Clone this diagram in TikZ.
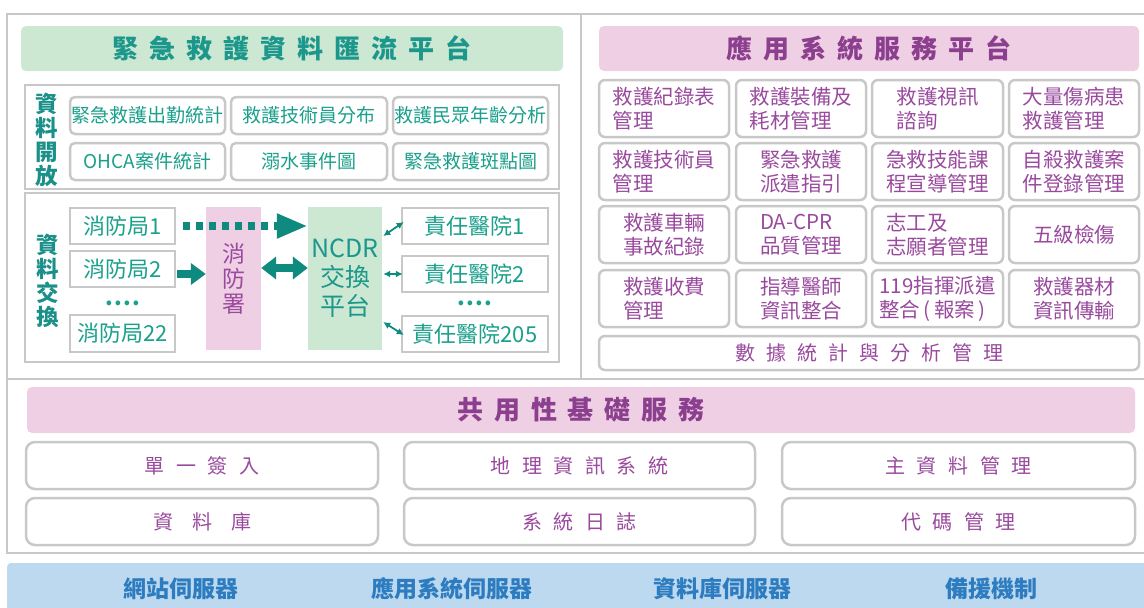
\documentclass[tikz,border=0pt]{standalone}
\usepackage{fontspec}
\setmainfont{Noto Sans CJK TC}
\usetikzlibrary{arrows.meta}
\definecolor{frame}{HTML}{C8C8C8}
\definecolor{tealtitle}{HTML}{1C978B}
\definecolor{tealtxt}{HTML}{1AA08B}
\definecolor{teallab}{HTML}{1A9089}
\definecolor{arrowc}{HTML}{0E8A7F}
\definecolor{greenfill}{HTML}{CCE7D2}
\definecolor{pinkfill}{HTML}{EFCFE3}
\definecolor{purp}{HTML}{9A4A9E}
\definecolor{purpdark}{HTML}{8C3F8E}
\definecolor{bluefill}{HTML}{BCD9F0}
\definecolor{bluetxt}{HTML}{2E7CC0}
\newcommand\bx[7][]{\node[#1, minimum width={(#5)-(#3)}, minimum height={(#6)-(#4)}] (#2) at ({((#3)+(#5))/2},{((#4)+(#6))/2}) {#7};}
\begin{document}
\begin{tikzpicture}[x=1pt,y=-1pt,
  frm/.style={draw=frame, line width=2.5pt},
  titlebar/.style={rounded corners=5pt, inner sep=0pt, font=\fontsize{26}{30}\selectfont\bfseries\addfontfeature{LetterSpace=42}},
  openbox/.style={draw=frame, line width=2.5pt, rounded corners=5pt, fill=white, inner sep=0pt, text=tealtxt, font=\fontsize{19}{22}\selectfont},
  exbox/.style={draw=frame, line width=2.5pt, fill=white, inner sep=0pt, text=tealtxt, font=\fontsize{22}{24}\selectfont},
  appbox/.style={draw=frame, line width=2.5pt, rounded corners=6pt, fill=white, inner sep=0pt, text=purp, align=left, font=\fontsize{20.5}{24}\selectfont},
  basebox/.style={draw=frame, line width=2.5pt, rounded corners=9pt, fill=white, inner sep=0pt, text=purp, font=\fontsize{20}{24}\selectfont\addfontfeature{LetterSpace=58}},
  vlabel/.style={align=center, inner sep=0pt, text=teallab, font=\fontsize{22.5}{24}\selectfont\bfseries},
  dots/.style={inner sep=0pt, anchor=base, text height=5pt, text depth=0pt, text=tealtxt, font=\fontsize{22}{22}\selectfont\bfseries\addfontfeature{LetterSpace=5}},
  bigarrow/.style={arrowc, line width=8pt},
  thinarrow/.style={arrowc, line width=1.8pt, {Latex[length=7pt,width=7pt]}-{Latex[length=7pt,width=7pt]}},
  srv/.style={inner sep=0pt, text=bluetxt, font=\fontsize{23}{26}\selectfont\bfseries}
]
\useasboundingbox (0,0) rectangle (1144,608);
% panels
\draw[frm] (7,14) rectangle (1154,379);
\draw[frm] (581,14) -- (581,379);
\draw[frm] (7,379) rectangle (1154,553);
\fill[bluefill, rounded corners=4pt] (7,563) rectangle (1160,625);
\draw[frm] (25,85) rectangle (559,189);
\draw[frm] (25,193) rectangle (559,362);

% titles
\bx[titlebar, fill=greenfill, text=tealtitle]{gtitle}{21}{26}{563}{71}{緊急救護資料匯流平台}
\bx[titlebar, fill=pinkfill, text=purpdark]{ptitle}{599}{26}{1139}{71}{應用系統服務平台}

% data open
\node[vlabel] (lopen) at (47,139.5) {資\\料\\開\\放};
\bx[openbox]{o1}{70}{97}{225}{134}{緊急救護出勤統計}
\bx[openbox]{o2}{231}{97}{387}{134}{救護技術員分布}
\bx[openbox]{o3}{393}{97}{548}{134}{救護民眾年齡分析}
\bx[openbox]{o4}{70}{143}{225}{180}{OHCA案件統計}
\bx[openbox]{o5}{231}{143}{387}{180}{溺水事件圖}
\bx[openbox]{o6}{393}{143}{548}{180}{緊急救護斑點圖}

% data exchange
\node[vlabel] (lex) at (48,280.5) {資\\料\\交\\換};
\bx[exbox]{f1}{70}{208}{175}{244}{消防局1}
\bx[exbox]{f2}{70}{251}{175}{287}{消防局2}
\bx[exbox]{f22}{70}{315}{175}{352}{消防局22}
\node[dots] (fdots) at (123,305) {....};
\bx[inner sep=0pt, fill=pinkfill, align=center, text=purp, font=\fontsize{23}{25}\selectfont]{fd}{206}{207}{261}{350}{消\\防\\署}
\bx[inner sep=0pt, fill=greenfill, align=center, text=tealtitle, font=\fontsize{25}{29}\selectfont]{ncdr}{308}{207}{382}{350}{NCDR\\交換\\平台}
\bx[exbox]{h1}{402}{208}{548}{244}{責任醫院1}
\bx[exbox]{h2}{402}{256}{548}{292}{責任醫院2}
\bx[exbox]{h205}{402}{316}{548}{352}{責任醫院205}
\node[dots] (hdots) at (475,305) {....};

% arrows
\draw[bigarrow, dash pattern=on 7pt off 6pt, -{Triangle[length=31pt,width=23pt]}] ([xshift=7pt]f1.east) -- (ncdr.west |- f1.east);
\coordinate (a2) at ([shift={(1,5)}]f2.east);
\draw[bigarrow, -{Triangle[length=15pt,width=21pt]}] (a2) -- (a2 -| fd.west);
\coordinate (y268) at (0,268);
\draw[bigarrow, {Triangle[length=15pt,width=22pt]}-{Triangle[length=15pt,width=22pt]}] (fd.east |- y268) -- (ncdr.west |- y268);
\coordinate (t1) at (0,236);
\coordinate (t3) at (0,322);
\draw[thinarrow] ([xshift=1pt]ncdr.east |- t1) -- ([shift={(3,-4)}]h1.west);
\draw[thinarrow] ([xshift=1pt]ncdr.east |- h2.west) -- ([xshift=2pt]h2.west);
\draw[thinarrow] ([xshift=1pt]ncdr.east |- t3) -- ([shift={(3,1)}]h205.west);

% application grid
\bx[appbox]{r11}{599}{80}{729}{137}{救護紀錄表\\管理}
\bx[appbox]{r12}{736}{80}{866}{137}{救護裝備及\\耗材管理}
\bx[appbox]{r13}{872}{80}{1003}{137}{救護視訊\\諮詢}
\bx[appbox]{r14}{1009}{80}{1139}{137}{大量傷病患\\救護管理}
\bx[appbox]{r21}{599}{143}{729}{200}{救護技術員\\管理}
\bx[appbox]{r22}{736}{143}{866}{200}{緊急救護\\派遣指引}
\bx[appbox]{r23}{872}{143}{1003}{200}{急救技能課\\程宣導管理}
\bx[appbox]{r24}{1009}{143}{1139}{200}{自殺救護案\\件登錄管理}
\bx[appbox]{r31}{599}{206}{729}{263}{救護車輛\\事故紀錄}
\bx[appbox]{r32}{736}{206}{866}{263}{DA-CPR\\品質管理}
\bx[appbox]{r33}{872}{206}{1003}{263}{志工及\\志願者管理}
\bx[appbox]{r34}{1009}{206}{1139}{263}{五級檢傷}
\bx[appbox]{r41}{599}{270}{729}{327}{救護收費\\管理}
\bx[appbox]{r42}{736}{270}{866}{327}{指導醫師\\資訊整合}
\bx[appbox]{r43}{872}{270}{1003}{327}{119指揮派遣\\整合\,(\,報案\,)}
\bx[appbox]{r44}{1009}{270}{1139}{327}{救護器材\\資訊傳輸}
\bx[appbox, align=center, font=\fontsize{20}{24}\selectfont\addfontfeature{LetterSpace=55}]{stat}{599}{336}{1139}{370}{數據統計與分析管理}

% common base services
\bx[titlebar, fill=pinkfill, text=purpdark]{btitle}{27}{387}{1135}{433}{共用性基礎服務}
\bx[basebox]{b1}{26}{442}{378}{489}{單一簽入}
\bx[basebox]{b2}{404}{442}{755}{489}{地理資訊系統}
\bx[basebox]{b3}{782}{442}{1135}{489}{主資料管理}
\bx[basebox, font=\fontsize{20}{24}\selectfont\addfontfeature{LetterSpace=95}]{b4}{26}{498}{378}{545}{資料庫}
\bx[basebox]{b5}{404}{498}{755}{545}{系統日誌}
\bx[basebox]{b6}{782}{498}{1135}{545}{代碼管理}

% servers
\node[srv] (s1) at (181,589) {網站伺服器};
\node[srv] (s2) at (452,589) {應用系統伺服器};
\node[srv] (s3) at (722,589) {資料庫伺服器};
\node[srv] (s4) at (991,589) {備援機制};
\end{tikzpicture}
\end{document}
